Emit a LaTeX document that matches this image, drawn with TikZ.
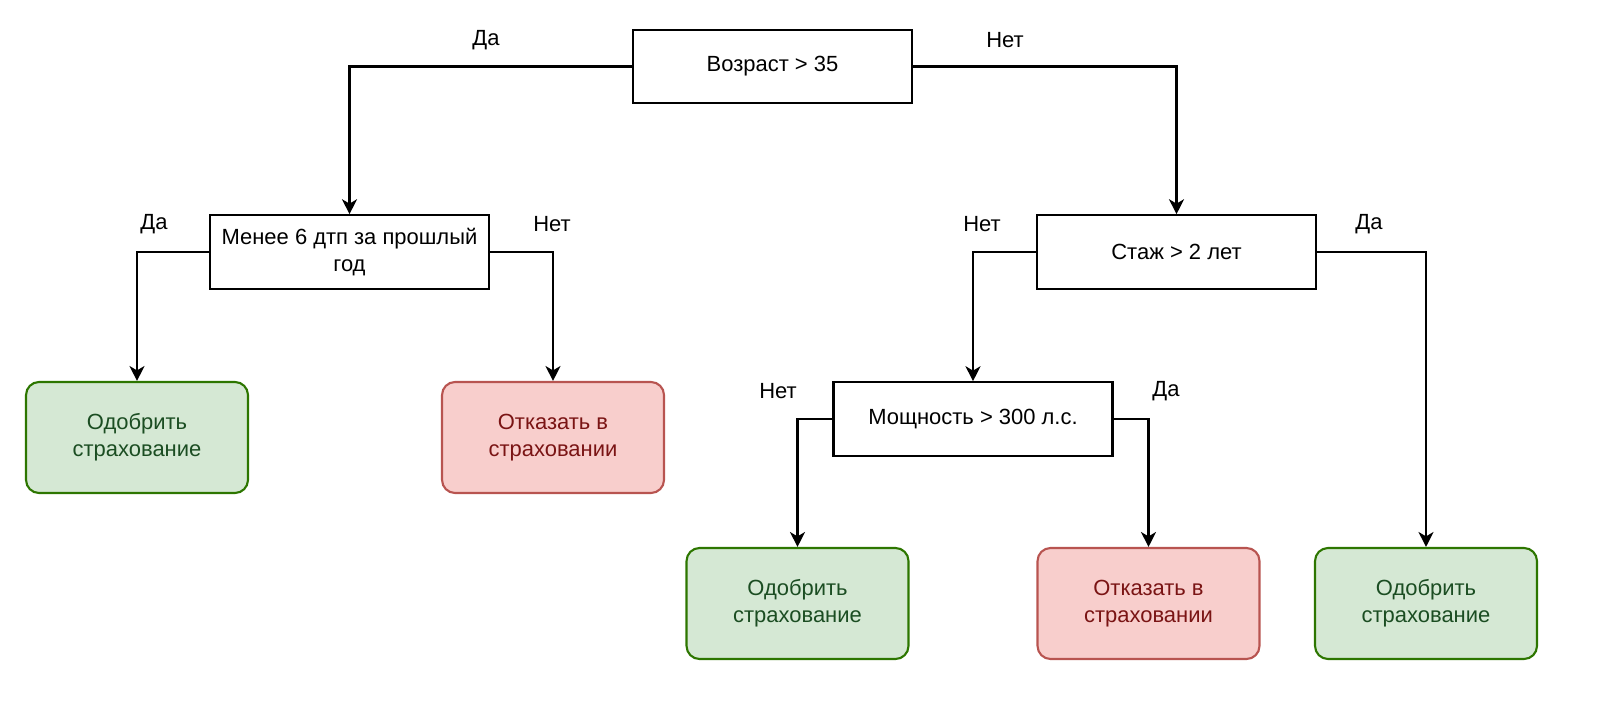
\documentclass[tikz,border=0pt]{standalone}
\usepackage{fontspec}
\setmainfont{Liberation Sans}
\usetikzlibrary{arrows.meta}
\definecolor{okfill}{HTML}{D5E8D4}
\definecolor{okline}{HTML}{2D7600}
\definecolor{oktext}{HTML}{1B4D22}
\definecolor{nofill}{HTML}{F8CECC}
\definecolor{noline}{HTML}{B85450}
\definecolor{notext}{HTML}{7A1414}

\begin{document}
\begin{tikzpicture}[
  x=0.02cm, y=-0.02cm,
  every node/.style={font=\fontsize{12.5}{15.3}\selectfont},
  question/.style={
    draw,
    line width=1.2pt,
    align=center,
    minimum height=1.47cm,
    minimum width=5.58cm
  },
  approve/.style={
    draw=okline,
    fill=okfill,
    text=oktext,
    line width=1.2pt,
    rounded corners=0.26cm,
    align=center,
    minimum height=2.22cm,
    minimum width=4.44cm
  },
  reject/.style={
    draw=noline,
    fill=nofill,
    text=notext,
    line width=1.2pt,
    rounded corners=0.26cm,
    align=center,
    minimum height=2.22cm,
    minimum width=4.44cm
  },
  branch/.style={inner sep=0pt},
  >={Stealth[length=8.5pt,width=8.5pt,inset=2.5pt]}
]
\useasboundingbox (0,0) rectangle (1612,712);
\node[question] (age) at (772.5,66.5) {Возраст > 35};
\node[question] (accidents) at (349.5,252) {Менее 6 дтп за прошлый\\год};
\node[question] (exper) at (1176.5,252) {Стаж > 2 лет};
\node[question] (power) at (973,419) {Мощность > 300 л.с.};
\node[approve] (okA) at (137,437.5) {Одобрить\\страхование};
\node[reject] (noA) at (553,437.5) {Отказать в\\страховании};
\node[approve] (okB) at (797.5,603.5) {Одобрить\\страхование};
\node[reject] (noB) at (1148.5,603.5) {Отказать в\\страховании};
\node[approve] (okC) at (1426,603.5) {Одобрить\\страхование};

\draw[->, line width=1.3pt] (age.west) -| (accidents.north);
\draw[->, line width=1.3pt] (age.east) -| (exper.north);
\draw[->, line width=1.3pt] (accidents.west) -| (okA.north);
\draw[->, line width=1.3pt] (accidents.east) -| (noA.north);
\draw[->, line width=1.3pt] (exper.west) -| (power.north);
\draw[->, line width=1.3pt] (exper.east) -| (okC.north);
\draw[->, line width=1.3pt] (power.west) -| (okB.north);
\draw[->, line width=1.3pt] (power.east) -| (noB.north);

\node[branch] (ageYes) at (486,40) {Да};
\node[branch] (ageNo) at (1005,40) {Нет};
\node[branch] (accYes) at (154,224) {Да};
\node[branch] (accNo) at (552,224) {Нет};
\node[branch] (expNo) at (982,224) {Нет};
\node[branch] (expYes) at (1369,224) {Да};
\node[branch] (powNo) at (778,391) {Нет};
\node[branch] (powYes) at (1166,391) {Да};
\end{tikzpicture}
\end{document}
